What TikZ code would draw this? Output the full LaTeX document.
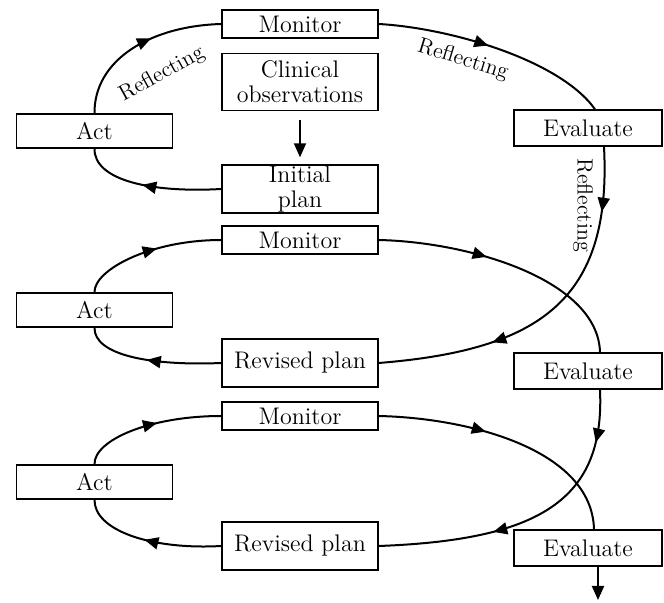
\documentclass[tikz,border=0pt]{standalone}
\usepackage{tikz}
\usetikzlibrary{arrows.meta,positioning,decorations.markings}

\tikzset{
  stage/.style={draw, line width=0.7pt, minimum width=78pt, inner sep=0pt,
    align=center, font=\fontsize{12}{12.5}\selectfont},
  cycleline/.style={line width=1pt},
  tipat/.style={postaction={decorate, decoration={markings,
    mark=at position #1 with {\arrow{Triangle[length=7pt,width=6pt]}}}}},
  reflect/.style={font=\fontsize{11}{12}\selectfont, inner sep=0pt}
}

\begin{document}
\begin{tikzpicture}[x=0.5pt,y=0.5pt]
  \useasboundingbox (0,0) rectangle (664,-603);

  % first cycle
  \node[stage, minimum height=14pt] (mon1) at (300,-24) {Monitor};
  \node[stage, minimum height=28.5pt] (clin) at (300,-82) {Clinical\\observations};
  \node[stage, minimum height=24pt] (init) at (300,-189) {Initial\\plan};
  \node[stage, minimum height=17pt] (act1) at (94.5,-131) {Act};
  \node[stage, minimum height=18pt, minimum width=74pt] (ev1) at (588,-128) {Evaluate};

  % second cycle
  \node[stage, minimum height=14pt] (mon2) at (300,-240) {Monitor};
  \node[stage, minimum height=17pt] (act2) at (94.5,-310) {Act};
  \node[stage, minimum height=24pt] (rev1) at (300,-363) {Revised plan};
  \node[stage, minimum height=18pt, minimum width=74pt] (ev2) at (588,-371) {Evaluate};

  % third cycle
  \node[stage, minimum height=14pt] (mon3) at (300,-416) {Monitor};
  \node[stage, minimum height=17pt] (act3) at (94.5,-482) {Act};
  \node[stage, minimum height=24pt] (rev2) at (300,-546) {Revised plan};
  \node[stage, minimum height=18pt, minimum width=74pt] (ev3) at (588,-548) {Evaluate};
  \coordinate (out) at (598,-600);

  % connectors
  \draw[-{Triangle[length=7pt,width=6pt]}, line width=1pt, shorten <=4.5pt, shorten >=3.5pt]
    (clin) -- (init);

  \draw[cycleline, tipat=0.58] (act1.north) .. controls (94,-60) and (150,-26) .. (mon1.west);
  \draw[cycleline, tipat=0.55] (init.west) .. controls (150,-193) and (94,-180) .. (act1.south);
  \draw[cycleline, tipat=0.47] (mon1.east) .. controls (450,-28) and (560,-60) .. ([xshift=3.5pt]ev1.north);
  \draw[cycleline, tipat=0.18, tipat=0.68] ([xshift=8pt]ev1.south)
    .. controls (612,-300) and (540,-350) .. (rev1.east);

  \draw[cycleline, tipat=0.55] (act2.north) .. controls (94,-270) and (150,-240) .. (mon2.west);
  \draw[cycleline, tipat=0.53] (rev1.west) .. controls (150,-366) and (94,-355) .. (act2.south);
  \draw[cycleline, tipat=0.41] (mon2.east) .. controls (470,-242) and (598,-280) .. ([xshift=6pt]ev2.north);
  \draw[cycleline, tipat=0.17, tipat=0.63] ([xshift=6pt]ev2.south)
    .. controls (605,-500) and (540,-540) .. (rev2.east);

  \draw[cycleline, tipat=0.55] (act3.north) .. controls (94,-440) and (150,-416) .. (mon3.west);
  \draw[cycleline, tipat=0.53] (rev2.west) .. controls (150,-550) and (94,-530) .. (act3.south);
  \draw[cycleline, tipat=0.41] (mon3.east) .. controls (470,-418) and (592,-450) .. ([xshift=3pt]ev3.north);
  \draw[cycleline, -{Triangle[length=7pt,width=6pt]}] (ev3.south -| out) -- (out);

  % labels
  \node[reflect, rotate=29] (refl1) at (162,-74) {Reflecting};
  \node[reflect, rotate=-17] (refl2) at (463,-60) {Reflecting};
  \node[reflect, rotate=-90] (refl3) at (583,-205) {Reflecting};
\end{tikzpicture}
\end{document}
